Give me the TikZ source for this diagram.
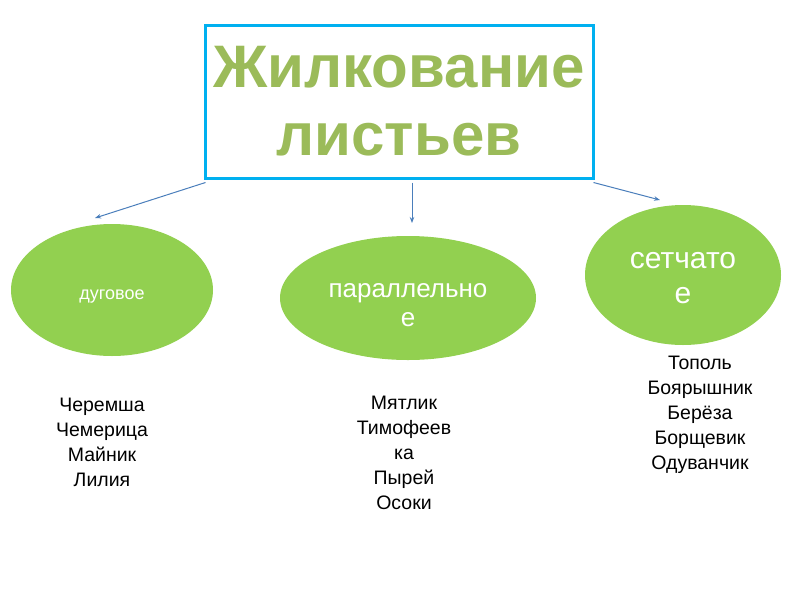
\documentclass[tikz,border=0pt]{standalone}
\usepackage{fontspec}
\setmainfont{Liberation Sans}
\usetikzlibrary{shapes.geometric,arrows.meta}
\definecolor{boxblue}{HTML}{00B0F0}
\definecolor{titlegreen}{HTML}{9BBB59}
\definecolor{ellgreen}{HTML}{92D050}
\definecolor{arrowblue}{HTML}{4A7EBB}
\tikzset{
  titlebox/.style={draw=boxblue, line width=3pt, rectangle, inner sep=0pt,
    minimum width=388pt, minimum height=153pt, align=center,
    text=titlegreen, font=\fontsize{60}{68}\selectfont\bfseries},
  leaf/.style={ellipse, fill=ellgreen, draw=none, inner sep=0pt},
  leaftext/.style={text=white, align=center, inner sep=0pt},
  conn/.style={draw=arrowblue, line width=1pt, -{Stealth[length=6pt,width=4.5pt]}},
  listtext/.style={anchor=north, align=center, inner sep=0pt,
    font=\fontsize{19.5}{25}\selectfont}
}
\begin{document}
\begin{tikzpicture}[x=1pt,y=-1pt]
\useasboundingbox (0,0) rectangle (800,600);
\node[titlebox] (box) at (399,101.5) {Жилкование\\листьев};
\node[leaf, minimum width=202pt, minimum height=132pt,
  label={[leaftext, yshift=-7pt, font=\fontsize{18}{21}\selectfont]center:дуговое}]
  (arc) at (112,290) {};
\node[leaf, minimum width=256pt, minimum height=124pt,
  label={[leaftext, yshift=-7pt, font=\fontsize{26}{29}\selectfont]center:{параллельно\\е}}]
  (par) at (408,298) {};
\node[leaf, minimum width=196pt, minimum height=140pt,
  label={[leaftext, yshift=-3pt, font=\fontsize{30}{35}\selectfont]center:{сетчато\\е}}]
  (net) at (683,275) {};
\coordinate (e1) at (95,218);
\coordinate (e2) at (412,223);
\coordinate (e3) at (660,200);
\draw[conn] ([xshift=2pt,yshift=-3pt]box.south west) -- (e1);
\draw[conn] ([xshift=13pt,yshift=-3pt]box.south) -- (e2);
\draw[conn] ([xshift=-1pt,yshift=-3pt]box.south east) -- (e3);
\node[listtext] (l1) at (102,398) {Черемша\\Чемерица\\Майник\\Лилия};
\node[listtext] (l2) at (404,396) {Мятлик\\Тимофеев\\ка\\Пырей\\Осоки};
\node[listtext] (l3) at (700,356) {Тополь\\Боярышник\\Берёза\\Борщевик\\Одуванчик};
\end{tikzpicture}
\end{document}
